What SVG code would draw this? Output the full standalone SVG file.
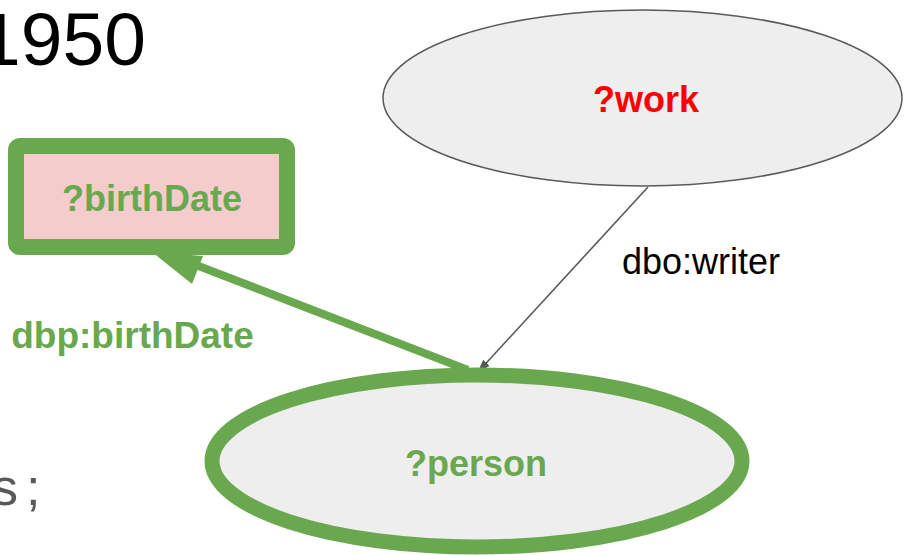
<svg xmlns="http://www.w3.org/2000/svg" width="907" height="555" viewBox="0 0 907 555">
  <style>
    .bold { font-family: "Liberation Sans", Arial, sans-serif; font-weight: bold; font-size: 36px; text-anchor: middle; }
    .green { fill: #6aa84f; }
    .plain { font-family: "Liberation Sans", Arial, sans-serif; }
  </style>
  <defs>
    <marker id="grayHead" viewBox="0 0 13 9" refX="12.5" refY="4.5" markerWidth="13" markerHeight="9" markerUnits="userSpaceOnUse" orient="auto">
      <path d="M0,0 L13,4.5 L0,9 z" fill="#595959"/>
    </marker>
  </defs>
  <rect width="907" height="555" fill="#ffffff"/>

  <!-- surrounding slide text -->
  <text class="plain" x="-21" y="65" font-size="75" fill="#000000">1950</text>
  <text class="plain" x="-8" y="505" font-size="52" fill="#595959">s <tspan x="26">;</tspan></text>

  <!-- connectors -->
  <g id="connectors">
    <line x1="648" y1="187" x2="478" y2="372" stroke="#595959" stroke-width="1.6" marker-end="url(#grayHead)"/>
    <line x1="468" y1="370" x2="196" y2="265" stroke="#6aa84f" stroke-width="8"/>
    <polygon points="152,252 203,256 192,284" fill="#6aa84f"/>
    <text class="plain" x="622" y="274" font-size="36" fill="#000000">dbo:writer</text>
    <text class="bold green" x="132.5" y="348" style="font-size:37px">dbp:birthDate</text>
  </g>

  <!-- nodes -->
  <g id="work">
    <ellipse cx="642.5" cy="98" rx="259.5" ry="88" fill="#eeeeee" stroke="#595959" stroke-width="1.5"/>
    <text class="bold" x="646" y="112" fill="#ff0000">?work</text>
  </g>
  <g id="birthDate">
    <rect x="16" y="146" width="271" height="101" rx="4" fill="#f4cccc" stroke="#6aa84f" stroke-width="16"/>
    <text class="bold green" x="152" y="211">?birthDate</text>
  </g>
  <g id="person">
    <ellipse cx="477" cy="461" rx="265" ry="86" fill="#eeeeee" stroke="#6aa84f" stroke-width="15"/>
    <text class="bold green" x="476" y="476">?person</text>
  </g>
</svg>
